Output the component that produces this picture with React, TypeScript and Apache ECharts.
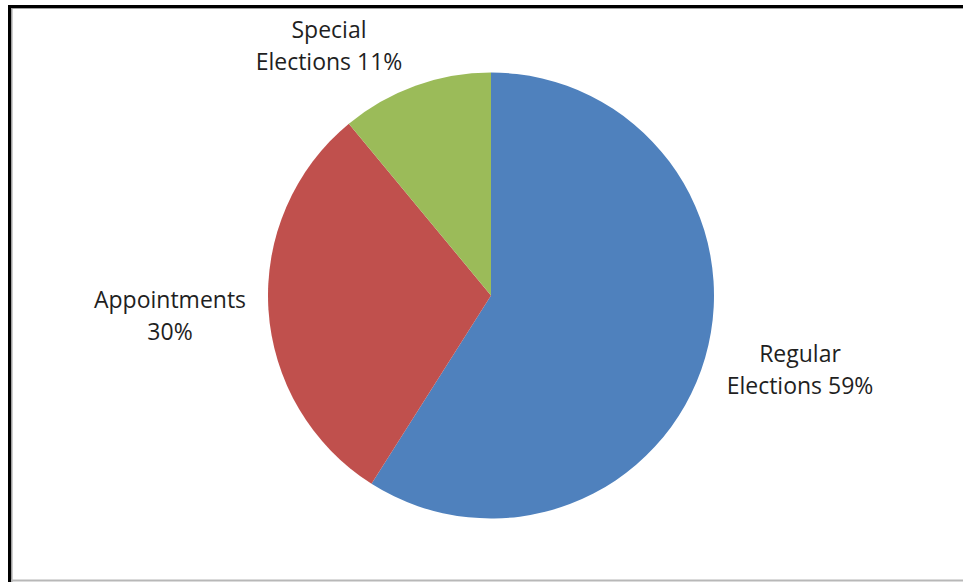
import React, { useEffect, useRef } from "react";
import * as echarts from "echarts";

const categories = ["Regular\nElections", "Appointments", "Special\nElections"];
const values = [59, 30, 11];
const colors = ["#4F81BD", "#C0504D", "#9BBB59"];
const labelSep = [" ", "\n", " "];
// label anchor (center of text block) relative to pie center
const labelOffsets = [
  [309, 73],
  [-321, 19],
  [-162, -251],
];

export default function App() {
  const ref = useRef<HTMLDivElement>(null);
  useEffect(() => {
    if (!ref.current) return;
    const chart = echarts.init(ref.current, null, { renderer: "svg" });
    const cx = 491;
    const cy = 295.5;
    chart.setOption({
      animation: false,
      backgroundColor: "#ffffff",
      graphic: [
        { type: "rect", shape: { x: 8, y: 5, width: 960, height: 3 }, style: { fill: "#000" } },
        { type: "rect", shape: { x: 8, y: 5, width: 3, height: 580 }, style: { fill: "#000" } },
        { type: "rect", shape: { x: 11, y: 8, width: 960, height: 1 }, style: { fill: "#a0a0a0" } },
        { type: "rect", shape: { x: 11, y: 8, width: 1.5, height: 580 }, style: { fill: "#a0a0a0" } },
        { type: "rect", shape: { x: 11, y: 579.5, width: 960, height: 2 }, style: { fill: "#b8b8b8" } },
      ],
      series: [
        {
          type: "pie",
          center: [cx, cy],
          radius: 223,
          startAngle: 90,
          clockwise: true,
          silent: true,
          itemStyle: { borderWidth: 0 },
          label: {
            show: true,
            position: "outside",
            fontFamily: "Open Sans",
            fontSize: 23,
            lineHeight: 32,
            color: "#1f1f1f",
            align: "center",
            formatter: (p: any) => p.name + labelSep[p.dataIndex] + p.value + "%",
          },
          labelLine: { show: false },
          labelLayout: (p: any) => ({
            x: cx + labelOffsets[p.dataIndex][0],
            y: cy + labelOffsets[p.dataIndex][1],
            align: "center",
            verticalAlign: "middle",
          }),
          data: categories.map((c, i) => ({
            name: c,
            value: values[i],
            itemStyle: { color: colors[i] },
          })),
        },
      ],
    });
    return () => chart.dispose();
  }, []);
  return (
    <div
      ref={ref}
      style={{ position: "absolute", left: 0, top: 0, width: 963, height: 582 }}
    />
  );
}
